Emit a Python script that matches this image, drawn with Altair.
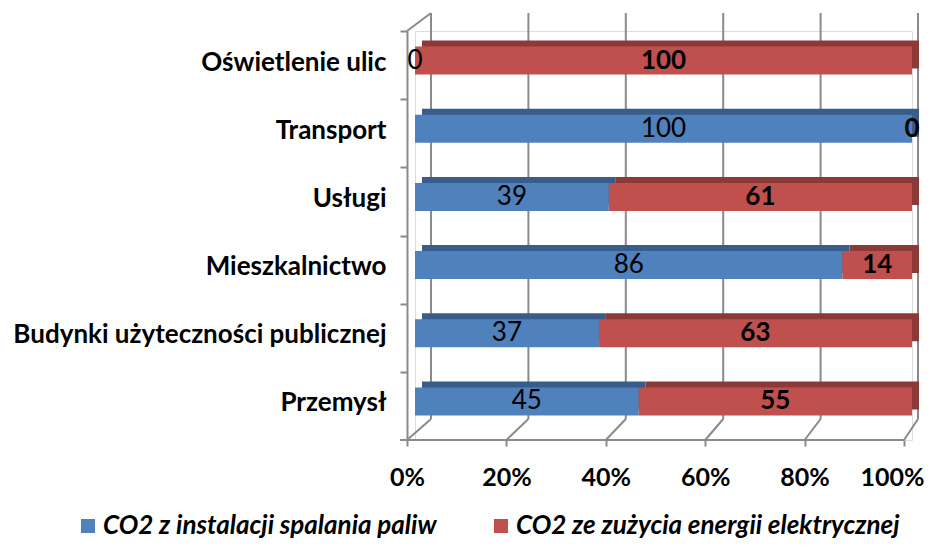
import altair as alt
import pandas as pd

categories = ["Oświetlenie ulic", "Transport", "Usługi", "Mieszkalnictwo",
              "Budynki użyteczności publicznej", "Przemysł"]
fuel = [0, 100, 39, 86, 37, 45]
elec = [100, 0, 61, 14, 63, 55]
series = ["CO2 z instalacji spalania paliw", "CO2 ze zużycia energii elektrycznej"]
ticks = [0, 20, 40, 60, 80, 100]

BLUE, BLUE_D = "#4f81bd", "#385d8a"
RED, RED_D = "#c0504d", "#8c3a38"
GRAY = "#8a8a8a"
FONT = "Lato"

rows = []
for i, c in enumerate(categories):
    rows.append({"cat": c, "series": series[0], "order": 0, "value": fuel[i], "dark": BLUE_D})
    rows.append({"cat": c, "series": series[1], "order": 1, "value": elec[i], "dark": RED_D})
df = pd.DataFrame(rows)
tdf = pd.DataFrame({"t": ticks})
zdf = pd.DataFrame({"t": [0]})

W, H = 497, 409
STEP = H / 6

xs = alt.Scale(domain=[0, 100], nice=False, zero=True)
ys = alt.Scale(paddingInner=0, paddingOuter=0)

x_axis = alt.Axis(values=ticks, labelExpr="datum.value + '%'", domain=False, title=None,
                  grid=False, tickOffset=-8, tickSize=6, tickWidth=2, tickColor=GRAY,
                  labelFont=FONT, labelFontSize=25, labelFontWeight="bold",
                  labelColor="black", labelPadding=19, labelFlush=False,
                  labelOffset={"condition": {"test": "datum.value == 100", "value": -12}, "value": 0})
y_axis = alt.Axis(offset=8, domainColor=GRAY, domainWidth=2, tickColor=GRAY, title=None,
                  tickWidth=2, tickSize=7, tickOffset=-STEP / 2, labelOffset=STEP / 2 - 3,
                  labelFont=FONT, labelFontSize=26, labelFontWeight="bold",
                  labelColor="black", labelPadding=14, labelLimit=500)


def X(f):
    return alt.X(f, scale=xs, axis=x_axis)


def Y():
    return alt.Y("cat:N", sort=categories, scale=ys, axis=y_axis)


base = alt.Chart(df).transform_stack(
    stack="value", groupby=["cat"], as_=["v0", "v1"],
    sort=[alt.SortField("order", order="ascending")]
).transform_calculate(mid="(datum.v0 + datum.v1) / 2")

# back wall gridlines
back = alt.Chart(tdf).mark_rule(color=GRAY, strokeWidth=2,
                                xOffset={"expr": "16 - datum.t * 0.1"}).encode(
    x=X("t:Q"), y=alt.value(-18), y2=alt.value(388))

# floor diagonals
floor = alt.Chart(tdf).mark_rule(color=GRAY, strokeWidth=2, xOffset=-8,
                                 x2Offset={"expr": "16 - datum.t * 0.1"}).encode(
    x=X("t:Q"), x2="t:Q", y=alt.value(H), y2=alt.value(388))

# front bottom line
front_line = alt.Chart(zdf).mark_rule(color=GRAY, strokeWidth=2, xOffset=-8, x2Offset=-8).encode(
    x=X("t:Q"), x2=alt.datum(100), y=alt.value(H))

# top-left wall diagonal
top_diag = alt.Chart(zdf).mark_rule(color=GRAY, strokeWidth=2, xOffset=-8, x2Offset=16).encode(
    x=X("t:Q"), x2="t:Q", y=alt.value(0), y2=alt.value(-18))

# bottom-left tick
bot_tick = alt.Chart(zdf).mark_rule(color=GRAY, strokeWidth=2, xOffset=-15, x2Offset=-8).encode(
    x=X("t:Q"), x2="t:Q", y=alt.value(H))

# dark (top / side faces)
dark = base.mark_bar(size=28, xOffset=7, x2Offset=7, yOffset=-10.5).encode(
    x=X("v0:Q"), x2="v1:Q", y=Y(),
    color=alt.Color("dark:N", scale=None))

front = base.mark_bar(size=28, yOffset=-4.5).encode(
    x=X("v0:Q"), x2="v1:Q", y=Y(),
    color=alt.Color("series:N", scale=alt.Scale(domain=series, range=[BLUE, RED]),
                    legend=alt.Legend(orient="none", legendX=-340, legendY=482, padding=0,
                                      direction="horizontal", title=None,
                                      labelFont=FONT, labelFontSize=26,
                                      labelFontStyle="italic", labelFontWeight="bold",
                                      labelColor="black", labelLimit=700,
                                      symbolType="square", symbolSize=196,
                                      symbolStrokeWidth=0, columnPadding=51, labelOffset=2)))

txt_blue = base.transform_filter(alt.datum.order == 0).mark_text(
    yOffset=-4.5, font=FONT, fontSize=26, color="black").encode(
    x=X("mid:Q"), y=Y(), text="value:Q")

txt_red = base.transform_filter(alt.datum.order == 1).mark_text(
    yOffset=-4.5, font=FONT, fontSize=26, fontWeight="bold", color="black").encode(
    x=X("mid:Q"), y=Y(), text="value:Q")

chart = alt.layer(back, floor, front_line, top_diag, bot_tick, dark, front, txt_blue, txt_red).properties(
    width=W, height=H,
    autosize=alt.AutoSizeParams(type="none"),
    padding={"left": 407, "top": 23, "right": 16, "bottom": 100},
).configure_view(stroke=None).configure(background="white")

chart.save("out.html", embed_options={"renderer": "svg", "actions": False})
